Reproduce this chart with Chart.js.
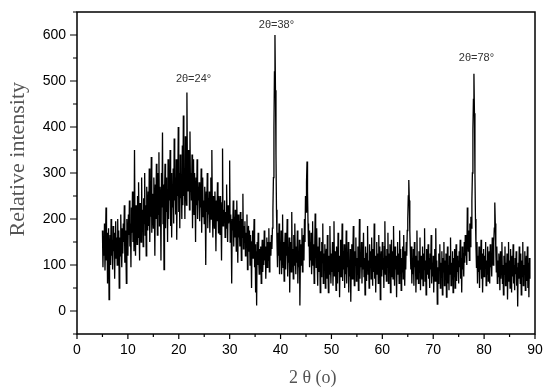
<!DOCTYPE html>
<html>
<head>
<meta charset="utf-8">
<script src="https://cdn.jsdelivr.net/npm/chart.js@4"></script>
<style>
  html, body { margin: 0; padding: 0; background: #fff; }
</style>
</head>
<body>
<canvas id="xrdChart" width="550" height="392"></canvas>
<script>
// XRD scan: 2θ from 5° to 89° in 0.1° steps
const twoThetaStart = 5;
const twoThetaStep = 0.1;

// Relative intensity, one row per degree (x.0 .. x.9)
const intensity = [
  175, 95, 160, 120, 190, 88, 150, 225, 110, 170,    // 5
  60, 145, 180, 25, 130, 165, 100, 200, 120, 155,    // 6
  90, 185, 130, 170, 70, 150, 195, 115, 160, 100,    // 7
  200, 130, 175, 50, 160, 120, 210, 140, 95, 180,    // 8
  125, 190, 150, 230, 105, 175, 140, 60, 200, 160,   // 9
  120, 210, 165, 240, 140, 190, 95, 225, 170, 260,   // 10
  150, 215, 130, 350, 175, 120, 230, 190, 145, 250,  // 11
  160, 280, 185, 110, 235, 200, 150, 290, 175, 220,  // 12
  140, 245, 190, 300, 165, 230, 120, 270, 210, 175,  // 13
  260, 185, 310, 150, 240, 205, 335, 170, 255, 215,  // 14
  180, 290, 230, 120, 275, 200, 320, 250, 165, 300,  // 15
  210, 345, 185, 270, 240, 110, 300, 225, 388, 190,  // 16
  275, 90, 250, 320, 180, 290, 215, 265, 150, 330,   // 17
  200, 280, 240, 350, 185, 300, 160, 260, 225, 310,  // 18
  190, 375, 240, 290, 210, 330, 155, 280, 250, 400,  // 19
  215, 300, 180, 340, 245, 280, 200, 360, 230, 425,  // 20
  250, 310, 200, 380, 280, 230, 475, 300, 260, 350,  // 21
  320, 220, 390, 260, 300, 240, 340, 180, 280, 330,  // 22
  210, 300, 250, 150, 290, 230, 330, 200, 270, 240,  // 23
  280, 195, 260, 225, 310, 170, 250, 290, 205, 240,  // 24
  190, 270, 225, 100, 260, 215, 300, 180, 245, 210,  // 25
  260, 170, 235, 290, 200, 350, 215, 160, 250, 230,  // 26
  180, 260, 210, 130, 240, 195, 280, 220, 170, 250,  // 27
  225, 165, 250, 200, 110, 235, 353, 185, 220, 195,  // 28
  240, 160, 215, 180, 275, 200, 150, 230, 190, 220,  // 29
  327, 150, 210, 170, 60, 200, 175, 240, 140, 205,   // 30
  160, 220, 190, 130, 240, 175, 105, 210, 160, 195,  // 31
  140, 215, 180, 110, 200, 160, 255, 135, 185, 150,  // 32
  195, 120, 170, 145, 210, 90, 160, 185, 130, 175,   // 33
  100, 165, 130, 50, 150, 175, 115, 140, 200, 95,    // 34
  145, 40, 130, 12, 150, 100, 170, 115, 80, 135,     // 35
  95, 140, 60, 120, 155, 85, 130, 100, 175, 110,     // 36
  140, 70, 125, 160, 95, 150, 110, 180, 85, 135,     // 37
  150, 120, 165, 135, 180, 220, 290, 400, 520, 600,  // 38
  480, 340, 220, 150, 95, 170, 120, 190, 80, 145,    // 39
  110, 175, 80, 140, 210, 95, 150, 65, 130, 170,     // 40
  90, 145, 120, 200, 75, 135, 105, 160, 40, 125,     // 41
  150, 85, 215, 110, 135, 70, 165, 100, 190, 120,    // 42
  80, 140, 105, 175, 60, 130, 95, 155, 12, 120,      // 43
  145, 100, 180, 85, 130, 165, 110, 200, 150, 250,   // 44
  215, 280, 325, 260, 190, 140, 175, 95, 150, 110,   // 45
  170, 80, 135, 195, 100, 145, 60, 120, 212, 150,    // 46
  95, 180, 110, 55, 140, 85, 160, 120, 40, 130,      // 47
  75, 150, 105, 190, 60, 125, 90, 145, 50, 115,      // 48
  135, 70, 165, 95, 40, 120, 80, 185, 100, 60,       // 49
  125, 85, 150, 55, 110, 195, 75, 130, 95, 45,       // 50
  140, 100, 60, 170, 85, 120, 30, 110, 155, 75,      // 51
  105, 190, 65, 130, 90, 145, 50, 115, 80, 175,      // 52
  60, 125, 95, 150, 40, 110, 75, 135, 20, 100,       // 53
  145, 70, 120, 185, 90, 55, 130, 100, 160, 65,      // 54
  115, 80, 140, 45, 105, 200, 70, 125, 95, 150,      // 55
  60, 130, 90, 170, 75, 115, 35, 140, 100, 65,       // 56
  125, 185, 80, 110, 50, 145, 95, 130, 70, 160,      // 57
  100, 55, 135, 85, 190, 70, 120, 40, 115, 150,      // 58
  80, 125, 60, 165, 95, 140, 25, 105, 130, 75,       // 59
  150, 90, 115, 50, 140, 195, 80, 120, 65, 135,      // 60
  95, 170, 60, 125, 85, 145, 40, 110, 155, 75,       // 61
  130, 70, 185, 100, 55, 140, 90, 120, 30, 105,      // 62
  150, 80, 125, 60, 175, 95, 135, 45, 115, 85,       // 63
  140, 70, 165, 100, 55, 130, 90, 150, 120, 175,     // 64
  200, 250, 285, 240, 175, 130, 90, 140, 60, 115,    // 65
  80, 135, 55, 150, 95, 120, 40, 105, 175, 70,       // 66
  110, 60, 130, 85, 160, 45, 120, 95, 70, 140,       // 67
  55, 125, 90, 180, 65, 110, 35, 135, 80, 100,       // 68
  145, 70, 115, 50, 125, 90, 165, 60, 105, 75,       // 69
  120, 40, 100, 135, 65, 180, 85, 110, 15, 95,       // 70
  60, 125, 90, 145, 50, 105, 75, 130, 35, 115,       // 71
  85, 150, 55, 110, 70, 125, 30, 95, 140, 60,        // 72
  100, 45, 120, 80, 160, 55, 105, 70, 130, 40,       // 73
  115, 75, 135, 50, 100, 145, 65, 120, 85, 110,      // 74
  60, 130, 95, 155, 70, 115, 40, 140, 90, 125,       // 75
  75, 150, 105, 165, 120, 140, 100, 225, 160, 130,   // 76
  175, 110, 190, 140, 205, 180, 240, 300, 395, 460,  // 77
  516, 430, 298, 200, 140, 95, 150, 60, 120, 85,     // 78
  140, 50, 115, 90, 155, 70, 125, 40, 100, 135,      // 79
  75, 120, 95, 150, 55, 110, 80, 140, 65, 105,       // 80
  130, 60, 145, 95, 115, 75, 160, 120, 100, 150,     // 81
  180, 236, 190, 130, 85, 140, 60, 110, 75, 125,     // 82
  95, 45, 130, 70, 110, 150, 60, 100, 35, 120,       // 83
  80, 140, 55, 105, 70, 125, 25, 95, 150, 65,        // 84
  110, 50, 135, 85, 40, 120, 75, 145, 60, 100,       // 85
  45, 115, 80, 130, 55, 95, 10, 105, 70, 140,        // 86
  90, 60, 125, 35, 110, 75, 150, 55, 100, 80,        // 87
  130, 45, 95, 120, 65, 140, 50, 105, 30, 115,       // 88
  70                                                 // 89
];

const xTickValues = [0, 10, 20, 30, 40, 50, 60, 70, 80, 90];
const yTickValues = [0, 100, 200, 300, 400, 500, 600];

// Peak annotations (text, 2θ position, intensity position)
const peakText = ['2θ=24°', '2θ=38°', '2θ=78°'];
const peakTextX = [22.9, 39.2, 78.5];
const peakTextY = [504, 621, 549];

const points = intensity.map((v, i) => ({
  x: Math.round((twoThetaStart + i * twoThetaStep) * 10) / 10,
  y: v
}));

// Draws the box frame, major/minor ticks and peak labels
const framePlugin = {
  id: 'frame',
  afterDatasetsDraw(chart) {
    const { ctx, chartArea: a, scales } = chart;
    const x = scales.x, y = scales.y;
    ctx.save();
    ctx.strokeStyle = '#000';
    ctx.lineWidth = 1.5;
    ctx.strokeRect(a.left, a.top, a.right - a.left, a.bottom - a.top);

    ctx.lineWidth = 1.2;
    ctx.beginPath();
    for (let v = x.min; v <= x.max; v += 5) {
      const px = x.getPixelForValue(v);
      const len = v % 10 === 0 ? 5 : 3;
      ctx.moveTo(px, a.bottom);
      ctx.lineTo(px, a.bottom + len);
    }
    for (let v = y.min; v <= y.max; v += 50) {
      const py = y.getPixelForValue(v);
      const len = v % 100 === 0 ? 7 : 4;
      ctx.moveTo(a.left, py);
      ctx.lineTo(a.left - len, py);
    }
    ctx.stroke();

    ctx.fillStyle = '#333';
    ctx.font = '11px "Liberation Sans", Arial, sans-serif';
    ctx.textAlign = 'center';
    ctx.textBaseline = 'middle';
    peakText.forEach((t, i) => {
      ctx.fillText(t, x.getPixelForValue(peakTextX[i]), y.getPixelForValue(peakTextY[i]));
    });
    ctx.restore();
  }
};

const tickFont = { family: '"Liberation Sans", Arial, sans-serif', size: 14 };

new Chart(document.getElementById('xrdChart'), {
  type: 'line',
  data: {
    datasets: [{
      data: points,
      borderColor: '#000',
      borderWidth: 1.3,
      pointRadius: 0,
      tension: 0,
      fill: false
    }]
  },
  options: {
    responsive: false,
    animation: false,
    devicePixelRatio: 1,
    parsing: false,
    layout: { padding: { top: 12, right: 15, left: 0, bottom: 0 } },
    plugins: {
      legend: { display: false },
      tooltip: { enabled: false }
    },
    scales: {
      x: {
        type: 'linear',
        min: 0,
        max: 90,
        afterBuildTicks: s => { s.ticks = xTickValues.map(v => ({ value: v })); },
        afterFit: s => { s.height = 58; s.paddingLeft = 0; s.paddingRight = 0; },
        grid: { display: false, drawTicks: false },
        border: { display: false },
        ticks: { color: '#000', font: tickFont, padding: 8, maxRotation: 0, autoSkip: false },
        title: {
          display: true,
          text: '   2 θ (ο)',
          color: '#555',
          font: { family: '"Liberation Serif", "Times New Roman", serif', size: 18 },
          padding: { top: 0, bottom: 3 }
        }
      },
      y: {
        type: 'linear',
        min: -50,
        max: 650,
        afterBuildTicks: s => { s.ticks = yTickValues.map(v => ({ value: v })); },
        afterFit: s => { s.width = 77; s.paddingTop = 0; s.paddingBottom = 0; },
        grid: { display: false, drawTicks: false },
        border: { display: false },
        ticks: { color: '#000', font: tickFont, padding: 11 },
        title: {
          display: true,
          text: '     Relative intensity',
          color: '#555',
          font: { family: '"Liberation Serif", "Times New Roman", serif', size: 22 },
          padding: { top: 5, bottom: 0 }
        }
      }
    }
  },
  plugins: [framePlugin]
});
</script>
</body>
</html>
